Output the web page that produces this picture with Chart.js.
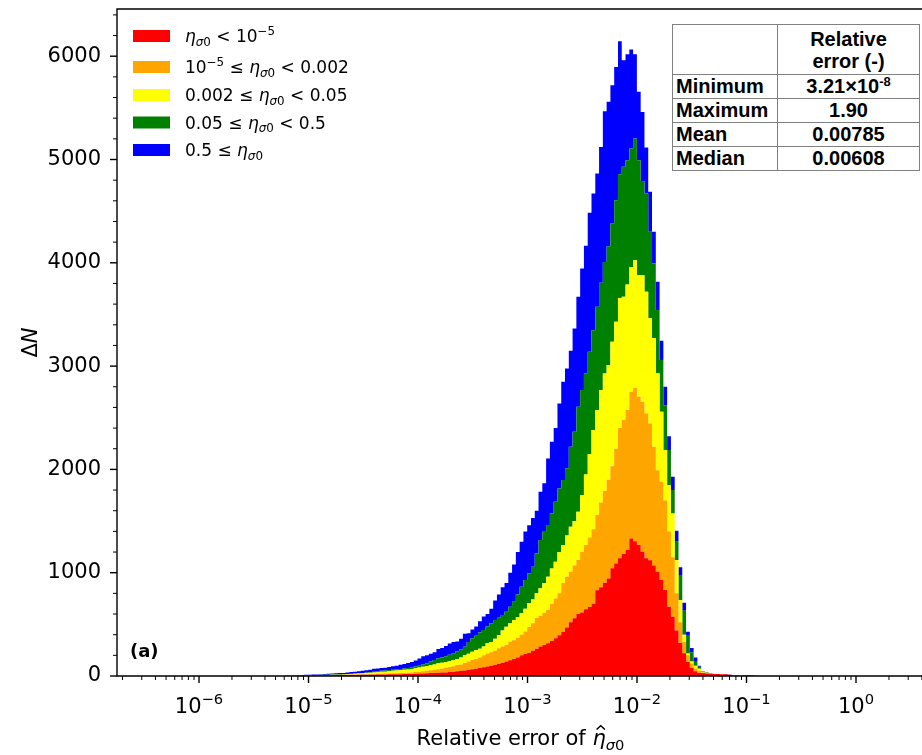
<!DOCTYPE html>
<html>
<head>
<meta charset="utf-8">
<script src="https://cdn.jsdelivr.net/npm/chart.js@4.4.1/dist/chart.umd.min.js"></script>
<style>
  html, body { margin: 0; padding: 0; overflow: hidden; background: #fff; }
  #wrap { position: relative; width: 940px; height: 755px; }
  #stats { position: absolute; left: 672px; top: 24px; border-collapse: collapse; table-layout: fixed; width: 247px;
           font: bold 20px "Liberation Sans", Arial, sans-serif; color: #000; background: #fff; }
  #stats td { border: 1px solid #808080; padding: 0 0 0 3px; height: 23px; line-height: 23px; white-space: nowrap; }
  #stats td.v { text-align: center; padding: 0; }
  #stats tr.head td { height: 49px; line-height: 22px; }
  #stats sup { font-size: 13px; line-height: 0; vertical-align: 7px; }
</style>
</head>
<body>
<div id="wrap">
  <canvas id="chart" width="940" height="755"></canvas>
  <table id="stats">
    <colgroup><col style="width:105px"><col style="width:142px"></colgroup>
    <tr class="head"><td></td><td class="v">Relative<br>error (-)</td></tr>
    <tr><td>Minimum</td><td class="v">3.21×10<sup>-8</sup></td></tr>
    <tr><td>Maximum</td><td class="v">1.90</td></tr>
    <tr><td>Mean</td><td class="v">0.00785</td></tr>
    <tr><td>Median</td><td class="v">0.00608</td></tr>
  </table>
</div>
<script>
// histogram bins: 225 log-spaced bins between the min and max relative error
const errMin = 3.21e-8;
const errMax = 1.90;
const binCount = 225;
const firstBin = 66; // first bin with any counts

// counts per bin (bins 66..191), one array per eta_sigma0 class
const redCounts = [
  0, 0, 0, 0, 1, 2, 3, 3, 4, 4,
  5, 5, 6, 6, 7, 7, 8, 8, 9, 10,
  10, 11, 12, 12, 13, 14, 14, 15, 16, 16,
  17, 18, 19, 20, 20, 22, 24, 25, 26, 28,
  30, 31, 33, 35, 38, 42, 46, 50, 54, 60,
  65, 70, 78, 85, 92, 100, 110, 118, 128, 140,
  152, 165, 180, 200, 212, 222, 245, 265, 285, 300,
  316, 340, 365, 395, 425, 470, 520, 560, 600, 615,
  645, 668, 700, 830, 860, 900, 945, 1042, 1090, 1139,
  1180, 1219, 1332, 1305, 1268, 1203, 1139, 1120, 1070, 1009,
  929, 832, 671, 574, 440, 320, 220, 135, 80, 45,
  30, 28, 25, 22, 20, 20, 18, 18, 12, 5,
  3, 2, 2, 8, 6, 3
];
const orangeCounts = [
  0, 1, 1, 1, 1, 1, 1, 1, 1, 2,
  1, 2, 2, 3, 3, 4, 4, 5, 5, 5,
  6, 6, 6, 7, 7, 7, 8, 9, 9, 10,
  10, 10, 11, 12, 15, 16, 18, 20, 24, 27,
  30, 34, 39, 45, 50, 53, 60, 62, 71, 80,
  90, 95, 102, 115, 127, 130, 135, 150, 157, 160,
  180, 180, 190, 200, 218, 252, 265, 296, 295, 310,
  323, 360, 385, 405, 475, 491, 490, 510, 523, 585,
  623, 672, 720, 730, 820, 890, 955, 988, 1110, 1261,
  1300, 1355, 1419, 1485, 1435, 1452, 1403, 1325, 1149, 984,
  951, 868, 729, 576, 360, 200, 110, 65, 40, 25,
  20, 7, 3, 1, 0, 0, 0, 0, 0, 0,
  0, 0, 0, 0, 0, 0
];
const yellowCounts = [
  1, 0, 1, 1, 1, 0, 0, 1, 1, 1,
  2, 2, 2, 2, 2, 2, 3, 4, 5, 6,
  8, 9, 10, 13, 14, 16, 18, 18, 21, 24,
  27, 30, 30, 32, 33, 36, 40, 45, 47, 50,
  52, 58, 56, 55, 57, 60, 59, 68, 78, 75,
  80, 87, 85, 85, 97, 100, 115, 129, 155, 177,
  178, 197, 200, 207, 220, 232, 230, 239, 270, 290,
  322, 340, 356, 400, 368, 399, 435, 430, 467, 550,
  682, 810, 961, 1014, 1088, 1139, 1110, 1205, 1229, 1260,
  1191, 1216, 1209, 1236, 1177, 1225, 1177, 1019, 1052, 937,
  678, 487, 450, 424, 323, 215, 70, 19, 20, 30,
  20, 5, 2, 1, 1, 0, 1, 0, 0, 0,
  0, 0, 0, 0, 0, 0
];
const greenCounts = [
  1, 2, 1, 2, 2, 3, 3, 3, 3, 3,
  3, 3, 3, 3, 3, 3, 3, 3, 3, 3,
  2, 4, 7, 6, 8, 9, 10, 12, 12, 10,
  9, 10, 12, 14, 16, 18, 18, 22, 26, 35,
  43, 48, 52, 55, 60, 64, 75, 80, 81, 115,
  130, 138, 155, 160, 162, 180, 182, 168, 150, 145,
  160, 177, 220, 257, 280, 288, 318, 387, 466, 497,
  500, 534, 581, 616, 629, 650, 774, 864, 1016, 1018,
  982, 988, 967, 1000, 1038, 1080, 1151, 1146, 1177, 1198,
  1258, 1203, 1146, 1177, 1113, 913, 952, 836, 722, 612,
  500, 435, 337, 226, 177, 242, 232, 178, 87, 45,
  20, 5, 3, 1, 0, 0, 0, 0, 0, 0,
  0, 0, 0, 0, 0, 0
];
const blueCounts = [
  1, 1, 2, 3, 3, 4, 5, 4, 5, 5,
  6, 8, 9, 10, 11, 12, 12, 13, 16, 18,
  19, 20, 20, 22, 28, 26, 28, 26, 30, 35,
  37, 42, 43, 47, 51, 58, 70, 78, 77, 75,
  75, 91, 90, 100, 110, 111, 95, 100, 126, 85,
  85, 90, 110, 130, 122, 140, 188, 225, 270, 278,
  330, 361, 410, 436, 470, 466, 472, 413, 468, 468,
  645, 694, 713, 823, 951, 967, 929, 1000, 1065, 1177,
  1232, 1346, 1323, 1291, 1316, 1459, 1397, 1338, 1290, 1287,
  1032, 1026, 958, 816, 662, 668, 445, 387, 307, 274,
  187, 178, 135, 129, 106, 75, 77, 32, 43, 35,
  10, 3, 2, 1, 1, 0, 1, 2, 2, 1,
  1, 1, 6, 0, 1, 0
];

const seriesColors = ['#ff0000', '#ffa500', '#ffff00', '#008000', '#0000ff'];
const seriesNames = [
  'η_σ0 < 10^-5', '10^-5 ≤ η_σ0 < 0.002', '0.002 ≤ η_σ0 < 0.05', '0.05 ≤ η_σ0 < 0.5', '0.5 ≤ η_σ0'
];
// same labels split into mathtext-like runs: n = normal, i = italic, ihat = italic with hat,
// sub/subi = subscript, sup = superscript
const legendRuns = [
  [['η', 'i'], ['σ', 'subi'], ['0', 'sub'], [' < 10', 'n'], ['−5', 'sup']],
  [['10', 'n'], ['−5', 'sup'], [' ≤ ', 'n'], ['η', 'i'], ['σ', 'subi'], ['0', 'sub'], [' < 0.002', 'n']],
  [['0.002 ≤ ', 'n'], ['η', 'i'], ['σ', 'subi'], ['0', 'sub'], [' < 0.05', 'n']],
  [['0.05 ≤ ', 'n'], ['η', 'i'], ['σ', 'subi'], ['0', 'sub'], [' < 0.5', 'n']],
  [['0.5 ≤ ', 'n'], ['η', 'i'], ['σ', 'subi'], ['0', 'sub']]
];

const xTickExponents = [-6, -5, -4, -3, -2, -1, 0];
const yTickLabels = [0, 1000, 2000, 3000, 4000, 5000, 6000];
const xMinLog = -6.749;
const xMaxLog = 0.621;
const yMax = 6457;

const logLo = Math.log10(errMin);
const logStep = (Math.log10(errMax) - logLo) / binCount;
function binEdge(k) {
  return Math.pow(10, logLo + k * logStep);
}
function toSteps(values) {
  const pts = values.map((v, i) => ({ x: binEdge(firstBin + i), y: v }));
  pts.push({ x: binEdge(firstBin + values.length), y: 0 });
  return pts;
}

const FONT = '"DejaVu Sans"';
function runFont(kind, size) {
  const small = kind === 'sub' || kind === 'subi' || kind === 'sup';
  const it = kind === 'i' || kind === 'ihat' || kind === 'subi' ? 'italic ' : '';
  return it + (small ? size * 0.7 : size) + 'px ' + FONT;
}
function runShift(kind, size) {
  if (kind === 'sub' || kind === 'subi') return size * 0.22;
  if (kind === 'sup') return -size * 0.42;
  return 0;
}
function drawRuns(ctx, runs, x, y, size, align) {
  const widths = runs.map(([t, k]) => {
    ctx.font = runFont(k, size);
    return ctx.measureText(t).width;
  });
  const total = widths.reduce((a, b) => a + b, 0);
  let cx = align === 'center' ? x - total / 2 : x;
  ctx.textAlign = 'left';
  ctx.textBaseline = 'alphabetic';
  runs.forEach(([t, k], i) => {
    ctx.font = runFont(k, size);
    ctx.fillText(t, cx, y + runShift(k, size));
    if (k === 'ihat') {
      // circumflex accent over the italic letter
      const mid = cx + widths[i] / 2 + size * 0.08;
      ctx.save();
      ctx.lineWidth = size * 0.07;
      ctx.beginPath();
      ctx.moveTo(mid - size * 0.2, y - size * 0.74);
      ctx.lineTo(mid, y - size * 0.92);
      ctx.lineTo(mid + size * 0.2, y - size * 0.74);
      ctx.stroke();
      ctx.restore();
    }
    cx += widths[i];
  });
}

// spines, ticks, tick labels, axis titles, legend and panel tag
const decorations = {
  id: 'decorations',
  afterDraw(chart) {
    const { ctx, chartArea: a, scales } = chart;
    const xs = scales.x, ys = scales.y;
    ctx.save();
    ctx.fillStyle = '#000';
    ctx.strokeStyle = '#000';

    ctx.lineWidth = 1.4;
    ctx.beginPath();
    ctx.moveTo(a.right, a.top);
    ctx.lineTo(a.left, a.top);
    ctx.lineTo(a.left, a.bottom);
    ctx.lineTo(a.right, a.bottom);
    ctx.lineTo(a.right, a.top);
    ctx.stroke();

    // x ticks (major at decades, minor at 2..9)
    for (let e = -7; e <= 0; e++) {
      for (let m = 1; m <= 9; m++) {
        const px = xs.getPixelForValue(m * Math.pow(10, e));
        if (px < a.left || px > a.right) continue;
        ctx.lineWidth = m === 1 ? 1.4 : 1.0;
        ctx.beginPath();
        ctx.moveTo(px, a.bottom);
        ctx.lineTo(px, a.bottom + (m === 1 ? 7 : 4));
        ctx.stroke();
      }
    }
    xTickExponents.forEach((e) => {
      const px = xs.getPixelForValue(Math.pow(10, e));
      drawRuns(ctx, [['10', 'n'], [e < 0 ? '−' + (-e) : String(e), 'sup']], px, 713, 21, 'center');
    });

    // y ticks (major every 1000, minor every 200)
    for (let v = 0; v <= yMax; v += 200) {
      const py = ys.getPixelForValue(v);
      const major = v % 1000 === 0;
      ctx.lineWidth = major ? 1.4 : 1.0;
      ctx.beginPath();
      ctx.moveTo(a.left, py);
      ctx.lineTo(a.left - (major ? 7 : 4), py);
      ctx.stroke();
    }
    ctx.font = '21px ' + FONT;
    ctx.textAlign = 'right';
    ctx.textBaseline = 'middle';
    yTickLabels.forEach((v) => ctx.fillText(String(v), 101, ys.getPixelForValue(v)));

    // axis titles
    drawRuns(ctx, [['Relative error of ', 'n'], ['η', 'ihat'], ['σ', 'subi'], ['0', 'sub']],
      (a.left + a.right) / 2, 745, 21, 'center');
    ctx.save();
    ctx.translate(37, (a.top + a.bottom) / 2);
    ctx.rotate(-Math.PI / 2);
    drawRuns(ctx, [['Δ', 'n'], ['N', 'i']], 0, 0, 21, 'center');
    ctx.restore();

    // legend
    const rowY = [36, 67, 95, 122.5, 150];
    chart.data.datasets.forEach((ds, i) => {
      ctx.fillStyle = ds.backgroundColor;
      ctx.fillRect(133, rowY[i] - 6, 37, 12);
      ctx.fillStyle = '#000';
      drawRuns(ctx, legendRuns[i], 185, rowY[i] + 6, 17, 'left');
    });

    ctx.font = 'bold 18px ' + FONT;
    ctx.textAlign = 'left';
    ctx.textBaseline = 'alphabetic';
    ctx.fillText('(a)', 130, 657);
    ctx.restore();
  }
};

const classCounts = [redCounts, orangeCounts, yellowCounts, greenCounts, blueCounts];

new Chart(document.getElementById('chart'), {
  type: 'line',
  data: {
    datasets: classCounts.map((counts, i) => ({
      label: seriesNames[i],
      data: toSteps(counts),
      backgroundColor: seriesColors[i],
      borderWidth: 0,
      pointRadius: 0,
      stepped: 'after',
      fill: i === 0 ? 'origin' : '-1'
    }))
  },
  options: {
    responsive: false,
    animation: false,
    events: [],
    layout: { padding: { left: 117, top: 9, right: 16, bottom: 79 } },
    scales: {
      x: { type: 'logarithmic', display: false, min: Math.pow(10, xMinLog), max: Math.pow(10, xMaxLog) },
      y: { type: 'linear', display: false, stacked: true, min: 0, max: yMax }
    },
    plugins: { legend: { display: false }, tooltip: { enabled: false } }
  },
  plugins: [decorations]
});
</script>
</body>
</html>
